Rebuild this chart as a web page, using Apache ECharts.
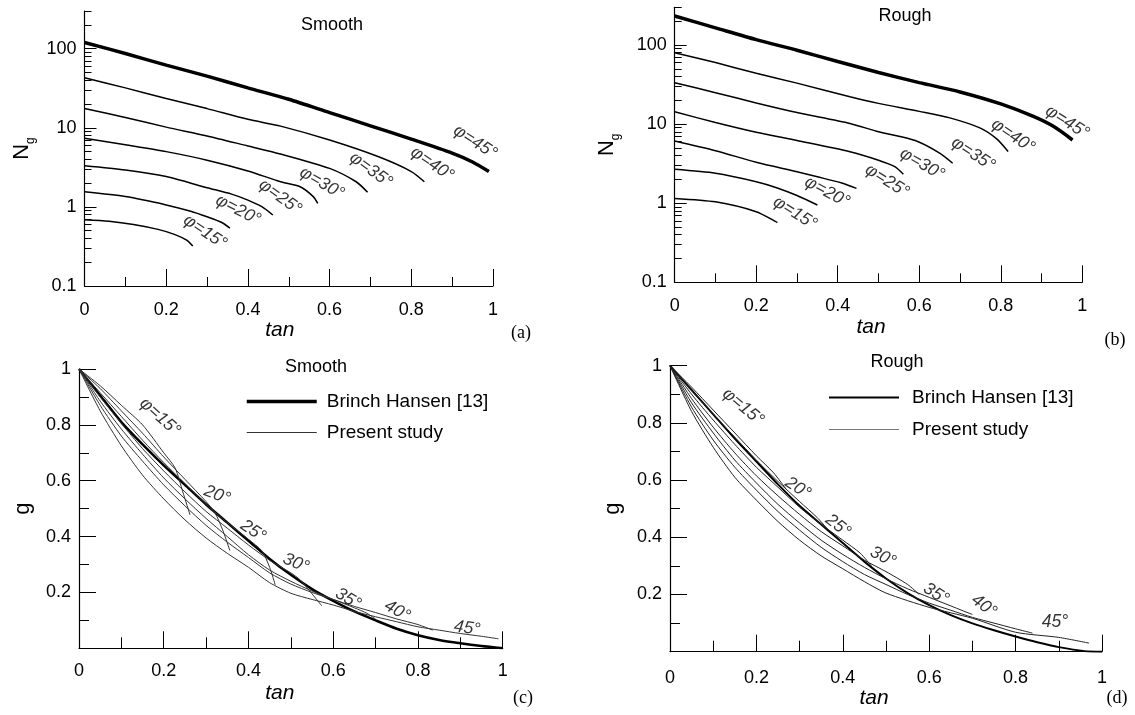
<!DOCTYPE html>
<html><head><meta charset="utf-8">
<script src="https://cdn.jsdelivr.net/npm/echarts@6/dist/echarts.min.js"></script>
<style>html,body{margin:0;padding:0;background:#fff}#c{width:1135px;height:715px}</style>
</head><body><div id="c"></div><script>
// ---------- tick values ----------
const tanTicks = [0, 0.2, 0.4, 0.6, 0.8, 1];
const ngTicks = [0.1, 1, 10, 100];
const ngMinorTicks = [0.2,0.3,0.4,0.5,0.6,0.7,0.8,0.9,2,3,4,5,6,7,8,9,20,30,40,50,60,70,80,90,200,300];
const gTicks = [0.2, 0.4, 0.6, 0.8, 1];

// ---------- curve names ----------
const phiNames = ['φ=15°','φ=20°','φ=25°','φ=30°','φ=35°','φ=40°','φ=45°'];
const gNames = ['φ=15°','20°','25°','30°','35°','40°','45°'];

// ---------- (a) N_gamma, smooth base : [tan delta, N] ----------
const ngSmooth15 = [[0,0.69],[0.06,0.66],[0.12,0.6],[0.18,0.52],[0.22,0.45],[0.25,0.38],[0.265,0.32]];
const ngSmooth20 = [[0,1.55],[0.1,1.35],[0.2,1.06],[0.26,0.88],[0.3,0.75],[0.335,0.64],[0.356,0.54]];
const ngSmooth25 = [[0,3.32],[0.1,2.93],[0.2,2.42],[0.3,1.75],[0.36,1.45],[0.4,1.22],[0.435,1.0],[0.461,0.79]];
const ngSmooth30 = [[0,7.4],[0.1,6.1],[0.2,5.0],[0.3,3.9],[0.4,2.85],[0.48,2.08],[0.528,1.8],[0.56,1.35],[0.571,1.11]];
const ngSmooth35 = [[0,17.6],[0.1,13.5],[0.2,10.2],[0.3,7.9],[0.4,5.9],[0.48,4.67],[0.6,3.07],[0.665,2.08],[0.693,1.53]];
const ngSmooth40 = [[0,43],[0.1,32],[0.2,23.5],[0.3,17.5],[0.4,12.8],[0.48,10.5],[0.6,7.0],[0.72,4.3],[0.8,2.8],[0.832,2.08]];
const ngSmooth45 = [[0,120],[0.1,87],[0.2,62],[0.3,45],[0.4,32],[0.5,23],[0.6,15.6],[0.7,10.6],[0.8,7.2],[0.9,4.8],[0.95,3.7],[0.99,2.8]];

// ---------- (b) N_gamma, rough base ----------
const ngRough15 = [[0,1.15],[0.1,1.04],[0.2,0.78],[0.252,0.57]];
const ngRough20 = [[0,2.68],[0.1,2.39],[0.2,1.87],[0.25,1.57],[0.3,1.25],[0.35,0.95]];
const ngRough25 = [[0,6.1],[0.1,4.6],[0.2,3.3],[0.3,2.5],[0.35,2.16],[0.41,1.8],[0.446,1.54]];
const ngRough30 = [[0,14.3],[0.1,10.5],[0.2,7.9],[0.3,6.2],[0.43,4.48],[0.5,3.5],[0.54,2.9],[0.561,2.32]];
const ngRough35 = [[0,33.4],[0.1,25],[0.2,18.5],[0.3,14],[0.43,10.2],[0.5,8.0],[0.59,6.2],[0.65,4.3],[0.682,3.2]];
const ngRough40 = [[0,80],[0.1,60],[0.2,44],[0.3,33],[0.43,22.2],[0.5,18.3],[0.6,14.5],[0.675,12],[0.75,8.9],[0.79,6.5],[0.818,4.5]];
const ngRough45 = [[0,233],[0.1,165],[0.2,117],[0.3,86],[0.4,62],[0.5,45],[0.6,33.5],[0.7,25.5],[0.8,18],[0.88,12.5],[0.93,9.3],[0.976,6.3]];

// ---------- (c) g, smooth base : [tan delta, g] ----------
const gSmoothHansen = [[0,1],[0.05,0.905],[0.1,0.81],[0.15,0.73],[0.2,0.655],[0.25,0.585],[0.3,0.515],[0.35,0.45],[0.4,0.385],[0.45,0.32],[0.5,0.263],[0.55,0.212],[0.6,0.17],[0.65,0.132],[0.7,0.1],[0.75,0.07],[0.8,0.047],[0.85,0.03],[0.9,0.018],[0.95,0.008],[1,0]];
const gSmooth15 = [[0,1],[0.05,0.94],[0.1,0.87],[0.15,0.8],[0.2,0.7],[0.227,0.645],[0.245,0.56],[0.262,0.478]];
const gSmooth20 = [[0,1],[0.05,0.93],[0.1,0.85],[0.15,0.77],[0.2,0.685],[0.25,0.605],[0.3,0.525],[0.321,0.485],[0.34,0.42],[0.356,0.35]];
const gSmooth25 = [[0,1],[0.05,0.915],[0.1,0.83],[0.15,0.745],[0.2,0.665],[0.25,0.59],[0.3,0.515],[0.35,0.45],[0.4,0.39],[0.431,0.35],[0.45,0.29],[0.463,0.227]];
const gSmooth30 = [[0,1],[0.05,0.9],[0.1,0.805],[0.15,0.715],[0.2,0.635],[0.25,0.56],[0.3,0.49],[0.35,0.43],[0.4,0.37],[0.45,0.315],[0.5,0.27],[0.522,0.245],[0.55,0.195],[0.573,0.152]];
const gSmooth35 = [[0,1],[0.05,0.885],[0.1,0.785],[0.15,0.695],[0.2,0.61],[0.25,0.535],[0.3,0.465],[0.35,0.4],[0.4,0.335],[0.45,0.28],[0.5,0.24],[0.55,0.205],[0.6,0.175],[0.65,0.145],[0.68,0.125],[0.7,0.105]];
const gSmooth40 = [[0,1],[0.05,0.87],[0.1,0.76],[0.15,0.67],[0.2,0.585],[0.25,0.51],[0.3,0.44],[0.35,0.38],[0.4,0.325],[0.45,0.27],[0.5,0.23],[0.55,0.2],[0.6,0.175],[0.65,0.15],[0.7,0.128],[0.75,0.105],[0.8,0.085],[0.835,0.065]];
const gSmooth45 = [[0,1],[0.05,0.85],[0.1,0.725],[0.15,0.62],[0.2,0.535],[0.25,0.46],[0.3,0.395],[0.35,0.34],[0.4,0.29],[0.45,0.235],[0.5,0.197],[0.55,0.175],[0.6,0.155],[0.65,0.132],[0.7,0.113],[0.75,0.095],[0.8,0.077],[0.85,0.065],[0.9,0.053],[0.95,0.043],[0.99,0.034]];

// ---------- (d) g, rough base ----------
const gRoughHansen = [[0,1],[0.05,0.915],[0.1,0.83],[0.15,0.745],[0.2,0.665],[0.25,0.585],[0.3,0.51],[0.35,0.445],[0.4,0.38],[0.45,0.315],[0.5,0.256],[0.55,0.205],[0.6,0.163],[0.65,0.128],[0.7,0.099],[0.75,0.075],[0.8,0.053],[0.85,0.033],[0.9,0.016],[0.96,0.002],[1,0]];
const gRough15 = [[0,1],[0.05,0.925],[0.1,0.845],[0.15,0.765],[0.2,0.685],[0.24,0.625],[0.268,0.57]];
const gRough20 = [[0,1],[0.05,0.915],[0.1,0.83],[0.15,0.75],[0.2,0.67],[0.25,0.595],[0.3,0.525],[0.34,0.47],[0.364,0.43]];
const gRough25 = [[0,1],[0.05,0.9],[0.1,0.81],[0.15,0.725],[0.2,0.645],[0.25,0.575],[0.3,0.505],[0.35,0.445],[0.4,0.39],[0.44,0.345],[0.466,0.3]];
const gRough30 = [[0,1],[0.05,0.885],[0.1,0.785],[0.15,0.695],[0.2,0.615],[0.25,0.545],[0.3,0.48],[0.35,0.42],[0.4,0.37],[0.45,0.32],[0.5,0.28],[0.55,0.235],[0.577,0.2]];
const gRough35 = [[0,1],[0.05,0.87],[0.1,0.765],[0.15,0.67],[0.2,0.59],[0.25,0.515],[0.3,0.45],[0.35,0.39],[0.4,0.34],[0.45,0.295],[0.5,0.255],[0.55,0.22],[0.6,0.19],[0.65,0.16],[0.7,0.13]];
const gRough40 = [[0,1],[0.05,0.855],[0.1,0.74],[0.15,0.645],[0.2,0.565],[0.25,0.49],[0.3,0.425],[0.35,0.365],[0.4,0.315],[0.45,0.27],[0.5,0.235],[0.55,0.2],[0.6,0.17],[0.65,0.145],[0.7,0.12],[0.75,0.1],[0.8,0.08],[0.839,0.065]];
const gRough45 = [[0,1],[0.05,0.84],[0.1,0.715],[0.15,0.61],[0.2,0.53],[0.25,0.455],[0.3,0.39],[0.35,0.335],[0.4,0.29],[0.45,0.245],[0.5,0.205],[0.6,0.155],[0.7,0.117],[0.8,0.068],[0.9,0.05],[0.97,0.03]];

// ---------- curve-label anchors (data coordinates) and tilt ----------
const ngSmoothLabelAt = [[0.295,0.482],[0.376,0.914],[0.479,1.334],[0.581,2.0],[0.701,2.93],[0.851,3.49],[0.956,6.61]];
const ngSmoothLabelTilt = [-34,-27,-36,-30,-36,-34,-33];
const ngRoughLabelAt = [[0.295,0.752],[0.374,1.386],[0.521,1.91],[0.607,3.13],[0.732,4.19],[0.83,7.08],[0.963,10.6]];
const ngRoughLabelTilt = [-32,-28,-32,-30,-33,-34,-32];
const gSmoothLabelAt = [[0.191,0.828],[0.326,0.549],[0.411,0.42],[0.512,0.305],[0.635,0.177],[0.751,0.134],[0.916,0.072]];
const gSmoothLabelTilt = [-42,-21,-34,-23,-31,-30,-8];
const gRoughLabelAt = [[0.169,0.856],[0.296,0.572],[0.389,0.44],[0.493,0.331],[0.616,0.202],[0.727,0.16],[0.891,0.104]];
const gRoughLabelTilt = [-40,-33,-38,-27,-32,-37,0];

const ngSmoothCurves = [ngSmooth15, ngSmooth20, ngSmooth25, ngSmooth30, ngSmooth35, ngSmooth40, ngSmooth45];
const ngRoughCurves = [ngRough15, ngRough20, ngRough25, ngRough30, ngRough35, ngRough40, ngRough45];
const gSmoothCurves = [gSmooth15, gSmooth20, gSmooth25, gSmooth30, gSmooth35, gSmooth40, gSmooth45];
const gRoughCurves = [gRough15, gRough20, gRough25, gRough30, gRough35, gRough40, gRough45];

// ---------- build ----------
const FONT = 'Liberation Sans, Arial, sans-serif';
const SERIF = 'Liberation Serif, Times New Roman, serif';
const BLACK = '#000';
const yIdx = [0, 2, 4, 5];

function xAxisFor(gi, labelMargin, nameGap, padRight) {
  return {
    gridIndex: gi, type: 'value', min: 0, max: 1, interval: 0.2,
    name: 'tan', nameLocation: 'middle', nameGap: nameGap,
    nameTextStyle: { fontFamily: FONT, fontSize: 21, fontStyle: 'italic', color: BLACK, padding: [0, padRight, 0, 0] },
    axisLine: { show: true, onZero: false, lineStyle: { color: BLACK, width: 1.2 } },
    axisTick: { show: true, inside: true, length: 17, lineStyle: { color: BLACK, width: 1 } },
    minorTick: { show: true, splitNumber: 2, length: gi < 2 ? 9 : 11, lineStyle: { color: BLACK, width: 1 } },
    axisLabel: { margin: labelMargin, fontFamily: FONT, fontSize: 18, color: BLACK },
    splitLine: { show: false }
  };
}
function ngAxis(gi, nameGap) {
  return {
    gridIndex: gi, type: 'log', logBase: 10, min: 0.1, max: 300, position: 'left',
    name: '{n|N}{s|g}', nameLocation: 'middle', nameGap: nameGap,
    nameTextStyle: { color: BLACK, rich: {
      n: { fontFamily: FONT, fontSize: 22, lineHeight: 26, verticalAlign: 'top', color: BLACK },
      s: { fontFamily: FONT, fontSize: 12, lineHeight: 12, verticalAlign: 'bottom', color: BLACK } } },
    axisLine: { show: true, onZero: false, lineStyle: { color: BLACK, width: 1.2 } },
    axisTick: { show: true, inside: true, length: 12, customValues: ngTicks, lineStyle: { color: BLACK } },
    axisLabel: { margin: 8, fontFamily: FONT, fontSize: 18, color: BLACK, customValues: ngTicks },
    splitLine: { show: false }
  };
}
function ngMinorAxis(gi) {
  return {
    gridIndex: gi, type: 'log', logBase: 10, min: 0.1, max: 300, position: 'left', offset: 0,
    axisLine: { show: false },
    axisTick: { show: true, inside: true, length: 7, customValues: ngMinorTicks, lineStyle: { color: BLACK } },
    axisLabel: { show: false },
    splitLine: { show: false }
  };
}
function gAxis(gi, nameGap) {
  return {
    gridIndex: gi, type: 'value', min: 0, max: 1, interval: 0.2,
    name: 'g', nameLocation: 'middle', nameGap: nameGap,
    nameTextStyle: { fontFamily: FONT, fontSize: 22, color: BLACK },
    axisLine: { show: true, onZero: false, lineStyle: { color: BLACK, width: 1.2 } },
    axisTick: { show: true, inside: true, length: 17, lineStyle: { color: BLACK } },
    minorTick: { show: true, splitNumber: 2, length: 10, lineStyle: { color: BLACK } },
    axisLabel: { margin: 8, showMinLabel: false, fontFamily: FONT, fontSize: 18, color: BLACK },
    splitLine: { show: false }
  };
}
function curve(gi, data, name, color, width) {
  return { type: 'line', name: name, xAxisIndex: gi, yAxisIndex: yIdx[gi], data: data,
    symbol: 'none', showSymbol: false, smooth: 0.25, silent: true,
    itemStyle: { color: color },
    lineStyle: { color: color, width: width }, z: 3 };
}
function labels(gi, at, tilt, texts) {
  return { type: 'scatter', name: 'labels' + gi, xAxisIndex: gi, yAxisIndex: yIdx[gi], symbolSize: 1,
    itemStyle: { color: 'rgba(0,0,0,0)' }, silent: true, z: 5,
    label: { show: true, position: 'inside', fontFamily: FONT, fontSize: 17.5, fontStyle: 'italic', color: BLACK },
    data: at.map((p, i) => ({ value: p, label: { show: true, formatter: texts[i], rotate: tilt[i] } })) };
}

const series = [];
ngSmoothCurves.forEach((d, i) => series.push(curve(0, d, phiNames[i], BLACK, i === 6 ? 3.5 : 1.5)));
ngRoughCurves.forEach((d, i) => series.push(curve(1, d, phiNames[i], BLACK, i === 6 ? 3.5 : 1.5)));
series.push(curve(2, gSmoothHansen, 'Brinch Hansen [13]', BLACK, 2.5));
gSmoothCurves.forEach((d) => series.push(curve(2, d, 'Present study', '#333', 1)));
series.push(curve(3, gRoughHansen, 'Brinch Hansen [13]', BLACK, 2));
gRoughCurves.forEach((d) => series.push(curve(3, d, 'Present study', '#222', 1)));
series.push(labels(0, ngSmoothLabelAt, ngSmoothLabelTilt, phiNames));
series.push(labels(1, ngRoughLabelAt, ngRoughLabelTilt, phiNames));
series.push(labels(2, gSmoothLabelAt, gSmoothLabelTilt, gNames));
series.push(labels(3, gRoughLabelAt, gRoughLabelTilt, gNames));

function txt(x, y, text, size, family) {
  return { type: 'text', x: x, y: y, silent: true,
    style: { text: text, fill: BLACK, font: size + 'px ' + family, align: 'center', verticalAlign: 'middle' } };
}
function legendFor(id, left, top, gap, heavyW, thinColor, textPad) {
  return { id: id, left: left, top: top, orient: 'vertical', itemWidth: 70, itemHeight: 14, itemGap: gap,
    selectedMode: false, itemStyle: { opacity: 0 },
    textStyle: { fontFamily: FONT, fontSize: 19, color: BLACK, padding: [0, 0, 0, textPad] },
    data: [ { name: 'Brinch Hansen [13]', lineStyle: { width: heavyW, color: BLACK } },
            { name: 'Present study', lineStyle: { width: 1, color: thinColor } } ] };
}

const option = {
  animation: false,
  backgroundColor: '#fff',
  grid: [
    { left: 84.5, top: 11, width: 408.5, height: 275 },
    { left: 674.7, top: 7.3, width: 407.6, height: 275 },
    { left: 79, top: 369, width: 423.7, height: 279.3 },
    { left: 670, top: 365.7, width: 432, height: 286 }
  ],
  xAxis: [ xAxisFor(0, 15, 29, 18), xAxisFor(1, 15, 29, 15), xAxisFor(2, 14, 34, 22), xAxisFor(3, 17, 31, 24) ],
  yAxis: [ ngAxis(0, 48), ngMinorAxis(0), ngAxis(1, 53), ngMinorAxis(1), gAxis(2, 45), gAxis(3, 46) ],
  legend: [
    legendFor('legC', 240, 387, 12, 3.5, '#333', 5),
    legendFor('legD', 823, 383, 13, 2, '#777', 8)
  ],
  graphic: [
    txt(332, 25, 'Smooth', 18, FONT),
    txt(905, 16, 'Rough', 18, FONT),
    txt(316, 367, 'Smooth', 18, FONT),
    txt(897, 362, 'Rough', 18, FONT),
    txt(521, 333, '(a)', 18, SERIF),
    txt(1115, 340, '(b)', 18, SERIF),
    txt(523, 698, '(c)', 18, SERIF),
    txt(1117, 698, '(d)', 18, SERIF)
  ],
  series: series
};
const chart = echarts.init(document.getElementById('c'), null, { renderer: 'canvas' });
chart.setOption(option);
</script></body></html>
